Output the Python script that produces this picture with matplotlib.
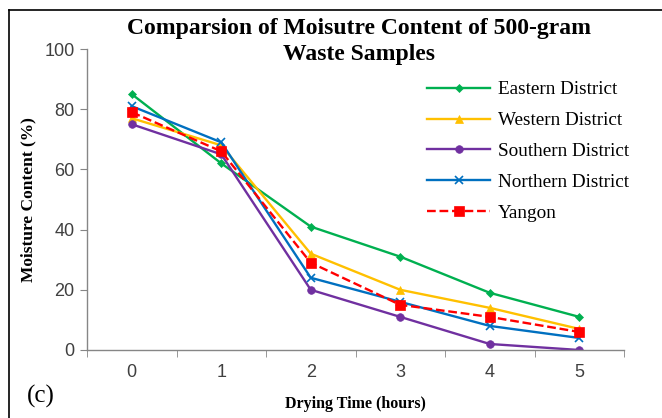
import matplotlib
matplotlib.use("Agg")
import matplotlib.pyplot as plt
from matplotlib.lines import Line2D

hours = [0, 1, 2, 3, 4, 5]
eastern = [85, 62, 41, 31, 19, 11]
western = [77, 68, 32, 20, 14, 7]
southern = [75, 65, 20, 11, 2, 0]
northern = [81, 69, 24, 16, 8, 4]
yangon = [79, 66, 29, 15, 11, 6]
y_ticks = [0, 20, 40, 60, 80, 100]

series = [
    ("Eastern District", eastern, "#00B050", "D", "-", 4.5),
    ("Western District", western, "#FFC000", "^", "-", 6),
    ("Southern District", southern, "#7030A0", "o", "-", 5.5),
    ("Northern District", northern, "#0070C0", "x", "-", 6),
    ("Yangon", yangon, "#FF0000", "s", "--", 6.5),
]

fig = plt.figure(figsize=(6.62, 4.18), dpi=100)
ax = fig.add_axes([87/662, 1-350/418, (624-87)/662, (350-49)/418])

for name, vals, col, mk, ls, ms in series:
    ax.plot(hours, vals, color=col, linestyle=ls, linewidth=1.7, marker=mk,
            markersize=ms, markeredgewidth=1.2 if mk == "x" else 0.5,
            markeredgecolor=col, markerfacecolor=col, label=name)

ax.set_xlim(-0.5, 5.5)
ax.set_ylim(0, 100)
ax.set_yticks(y_ticks)
ax.set_xticks(hours)
ax.set_xticks([h - 0.5 for h in hours] + [5.5], minor=True)
ax.tick_params(axis="x", which="major", length=0, pad=10)
ax.tick_params(axis="x", which="minor", length=5, color="#868686", direction="out")
ax.tick_params(axis="y", length=5, color="#868686", direction="out", pad=4)
for lab in ax.get_xticklabels() + ax.get_yticklabels():
    lab.set_fontfamily("Liberation Sans")
    lab.set_fontsize(13)
    lab.set_color("#404040")
for s in ["top", "right"]:
    ax.spines[s].set_visible(False)
for s in ["left", "bottom"]:
    ax.spines[s].set_color("#868686")
    ax.spines[s].set_linewidth(1.0)

ax.set_xlabel("Drying Time (hours)", fontfamily="Liberation Serif",
              fontweight="bold", fontsize=11.5, labelpad=11)
ax.set_ylabel("Moisture Content (%)", fontfamily="Liberation Serif",
              fontweight="bold", fontsize=12.5, labelpad=6)

fig.text(359/662, 1-41.5/418, "Comparsion of Moisutre Content of 500-gram\nWaste Samples",
         ha="center", va="center", fontfamily="Liberation Serif",
         fontweight="bold", fontsize=17, linespacing=1.3)

leg = ax.legend(loc="upper left", bbox_to_anchor=(427/662, 1-81/418),
                bbox_transform=fig.transFigure, frameon=False,
                prop={"family": "Liberation Serif", "size": 13.8},
                handlelength=3.3, labelspacing=0.7, handletextpad=0.4,
                borderpad=0, borderaxespad=0)

fig.text(27/662, 1-396/418, "(c)", ha="left", va="center",
         fontfamily="Liberation Serif", fontsize=18)

fig.add_artist(Line2D([9/662, 9/662], [0, 1-10/418], transform=fig.transFigure,
                      color="black", linewidth=1.2))
fig.add_artist(Line2D([9/662, 1], [1-10/418, 1-10/418], transform=fig.transFigure,
                      color="black", linewidth=1.2))

fig.savefig("out.png", dpi=100)
